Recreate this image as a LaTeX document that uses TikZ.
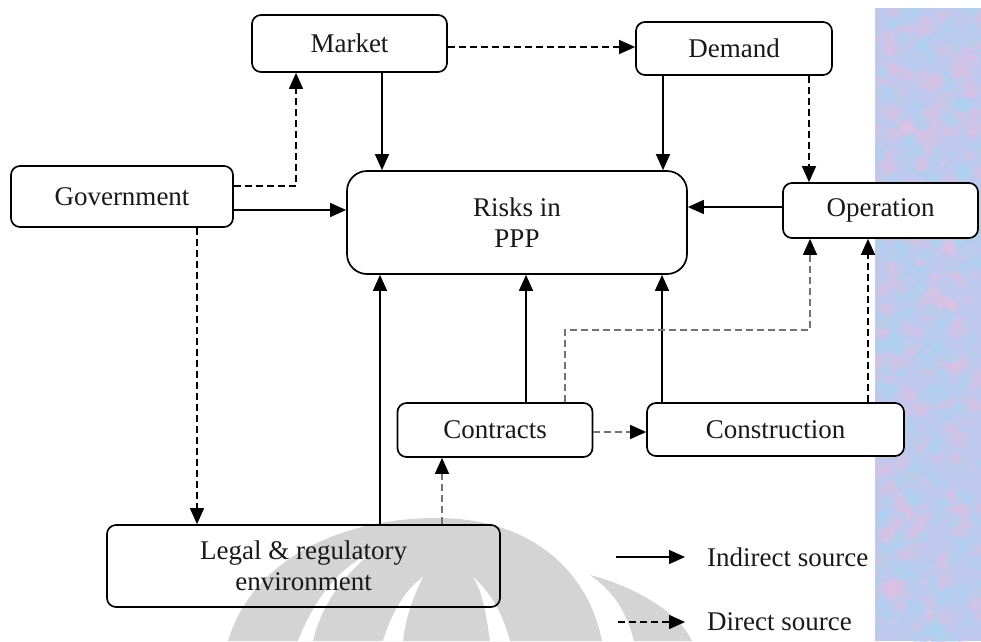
\documentclass[tikz,border=0pt]{standalone}
\usepackage{fontspec}
\setmainfont{Liberation Serif}
\usetikzlibrary{arrows.meta}
\definecolor{stripe}{RGB}{190,201,237}
\definecolor{speckpink}{RGB}{226,192,228}
\definecolor{speckblue}{RGB}{170,212,240}
\definecolor{markgray}{RGB}{212,212,212}
\definecolor{dimline}{RGB}{115,115,115}

\begin{document}
\begin{tikzpicture}[x=1pt,y=-1pt,
  txt/.style={font=\fontsize{27}{31}\selectfont, text=black!90},
  box/.style={txt, draw, line width=1.7pt, rounded corners=9pt, fill=white,
              inner sep=0pt, align=center},
  tip/.style={-{Triangle[length=16pt,width=14pt,color=black]}},
  ind/.style={tip, line width=1.4pt},
  dir/.style={tip, line width=1.4pt, dash pattern=on 7pt off 4pt},
  dirg/.style={dir, draw=dimline}]

\useasboundingbox (0,0) rectangle (981,641);

% textured side band
\fill[stripe] (875,8) rectangle (981,641);
\begin{scope}
  \clip (875,8) rectangle (981,641);
  \pgfmathsetseed{7}
  \foreach \i in {1,...,260}{
    \pgfmathsetmacro{\px}{875+106*rnd}
    \pgfmathsetmacro{\py}{8+633*rnd}
    \pgfmathsetmacro{\pr}{3+6*rnd}
    \fill[speckpink, opacity=0.45] (\px,\py) circle[radius=\pr];
  }
  \foreach \i in {1,...,260}{
    \pgfmathsetmacro{\px}{875+106*rnd}
    \pgfmathsetmacro{\py}{8+633*rnd}
    \pgfmathsetmacro{\pr}{3+6*rnd}
    \fill[speckblue, opacity=0.45] (\px,\py) circle[radius=\pr];
  }
\end{scope}

% faint emblem behind the lower part
\fill[markgray] (228,641) .. controls (252,560) and (340,518) .. (437,518)
  .. controls (530,518) and (588,570) .. (602,641) -- cycle;
\fill[markgray] (590,575) .. controls (640,588) and (680,615) .. (692,641)
  -- (634,641) .. controls (626,610) and (612,590) .. (590,575) -- cycle;
\fill[white] (298,641) .. controls (318,590) and (345,565) .. (372,552)
  .. controls (350,570) and (322,600) .. (313,641) -- cycle;
\fill[white] (383,641) .. controls (392,612) and (405,590) .. (423,577)
  .. controls (414,595) and (406,615) .. (403,641) -- cycle;
\fill[white] (490,641) .. controls (486,612) and (482,590) .. (473,577)
  .. controls (490,592) and (502,612) .. (510,641) -- cycle;

% boxes
\node[box, minimum width=195pt, minimum height=57pt] (market) at (349.5,43.5) {Market};
\node[box, minimum width=196pt, minimum height=53pt] (demand) at (734,48.5) {Demand};
\node[box, minimum width=222pt, minimum height=61pt] (gov) at (122,196.5) {Government};
\node[box, rounded corners=20pt, minimum width=340pt, minimum height=103pt] (risks) at (517,222.5) {Risks in\\PPP};
\node[box, minimum width=195pt, minimum height=55pt] (op) at (880.5,210.5) {Operation};
\node[box, minimum width=195pt, minimum height=54pt] (contracts) at (495,430) {Contracts};
\node[box, minimum width=257pt, minimum height=53pt] (constr) at (775.5,429.5) {Construction};
\node[box, fill=none, minimum width=393pt, minimum height=82pt] (legal) at (303.5,566) {Legal \& regulatory\\environment};

% connector end points on the box borders
\coordinate (m1) at ([xshift=32.5pt]market.south);
\coordinate (m2) at ([xshift=-53.5pt]market.south);
\coordinate (mk) at ([yshift=-3.5pt]market.east);
\coordinate (g1) at ([yshift=10.5pt]gov.east);
\coordinate (g2) at ([yshift=-13.5pt]gov.east);
\coordinate (g3) at ([xshift=75pt]gov.south);
\coordinate (d1) at ([xshift=-71pt]demand.south);
\coordinate (d2) at ([xshift=75pt]demand.south);
\coordinate (o1) at ([yshift=3.5pt]op.west);
\coordinate (o2) at ([xshift=-70.5pt]op.south);
\coordinate (l1) at ([xshift=76.5pt]legal.north);
\coordinate (l2) at ([xshift=138.5pt]legal.north);
\coordinate (c1) at ([xshift=31pt]contracts.north);
\coordinate (c2) at ([xshift=70pt]contracts.north);
\coordinate (c3) at ([yshift=-2pt]contracts.east);
\coordinate (k1) at ([xshift=-113.5pt]constr.north);
\coordinate (k2) at ([xshift=92.5pt]constr.north);
\coordinate (kn) at (700,330);

% indirect sources
\draw[ind] (m1) -- (m1 |- risks.north);
\draw[ind] (d1) -- (d1 |- risks.north);
\draw[ind] (g2) -- (g2 -| risks.west);
\draw[ind] (o1) -- (o1 -| risks.east);
\draw[ind] (l1) -- (l1 |- risks.south);
\draw[ind] (c1) -- (c1 |- risks.south);
\draw[ind] (k1) -- (k1 |- risks.south);

% direct sources
\draw[dir] (mk) -- (mk -| demand.west);
\draw[dir] (g1) -| (m2);
\draw[dir] (g3) -- (g3 |- legal.north);
\draw[dir] (d2) -- (d2 |- op.north);
\draw[dir] (k2) -- (k2 |- op.south);
\draw[dirg] (c2) -- (c2 |- kn) -| (o2);
\draw[dirg] (c3) -- (c3 -| constr.west);
\draw[dirg] (l2) -- (l2 |- contracts.south);

% legend
\node[txt, anchor=west, inner sep=0pt] (lgi) at (707,557) {Indirect source};
\node[txt, anchor=west, inner sep=0pt] (lgd) at (707,622) {Direct source};
\coordinate (li) at (616,557);
\coordinate (ld) at (618,622);
\draw[ind, shorten >=22pt] (li) -- (lgi.west);
\draw[dir, shorten >=22pt] (ld) -- (lgd.west);
\end{tikzpicture}
\end{document}
